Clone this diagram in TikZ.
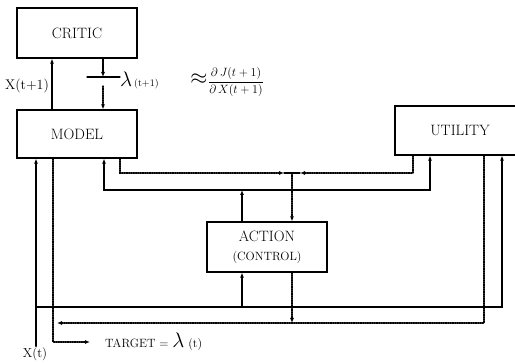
\RequirePackage{fix-cm}
\documentclass[tikz,border=0pt]{standalone}
\usepackage{amsmath}
\usetikzlibrary{arrows.meta}
\tikzset{
  block/.style={draw, line width=1.2pt, minimum width=120pt, minimum height=49pt, inner sep=0pt, align=center, font=\fontsize{15}{17}\selectfont},
  wire/.style={line width=1.3pt},
  sig/.style={densely dotted, line width=1.3pt},
  lbl/.style={inner sep=1pt, font=\fontsize{12}{14}\selectfont},
}
\begin{document}
\begin{tikzpicture}[x=1pt, y=-1pt, >={Latex[length=5pt,width=4pt]}, line cap=round]
\useasboundingbox (0,0) rectangle (515,363);
% boxes
\node[block, minimum height=50pt] (critic) at (77,33) {CRITIC};
\node[block, minimum height=48pt] (model) at (77,134) {MODEL};
\node[block, minimum width=130pt] (utility) at (460,130.5) {UTILITY};
\node[block, minimum height=50pt] (action) at (267,247) {ACTION\\[2pt]{\fontsize{12}{14}\selectfont(CONTROL)}};
% bus levels
\coordinate (busA) at (0,190);
\coordinate (busB) at (0,173);
\coordinate (busC) at (0,307);
\coordinate (busD) at (0,323);
% ports
\coordinate (m1) at ([xshift=-41pt]model.south);
\coordinate (m2) at ([xshift=-24pt]model.south);
\coordinate (m3) at ([xshift=27pt]model.south);
\coordinate (m4) at ([xshift=43pt]model.south);
\coordinate (m5) at ([xshift=-25pt]model.north);
\coordinate (m6) at ([xshift=26pt]model.north);
\coordinate (c1) at ([xshift=-25pt]critic.south);
\coordinate (c2) at ([xshift=26pt]critic.south);
\coordinate (u1) at ([xshift=-47pt]utility.south);
\coordinate (u2) at ([xshift=-30pt]utility.south);
\coordinate (u3) at ([xshift=24pt]utility.south);
\coordinate (u4) at ([xshift=42pt]utility.south);
\coordinate (a1) at ([xshift=-25pt]action.north);
\coordinate (a2) at ([xshift=25pt]action.north);
\coordinate (a3) at ([xshift=-25pt]action.south);
\coordinate (a4) at ([xshift=25pt]action.south);
\coordinate (lam) at (103,77);
\coordinate (jn) at (a2 |- busB);
% labels
\node[lbl, font=\fontsize{14}{16}\selectfont] (xnext) at (27,86) {X(t+1)};
\node[lbl, anchor=west] (lamnext) at (119,80) {{\fontsize{21}{23}\selectfont$\lambda$}\,{\fontsize{10}{12}\selectfont(t+1)}};
\node[lbl] (approx) at (199,79) {\fontsize{22}{24}\selectfont$\approx$};
\node[lbl] (grad) at (236,82) {$\dfrac{\partial\,J(t+1)}{\partial\,X(t+1)}$};
\node[lbl, font=\fontsize{13}{15}\selectfont] (xnow) at (35,354) {X(t)};
\node[lbl, anchor=west] (target) at (104,342) {TARGET = {\fontsize{21}{23}\selectfont$\lambda$} (t)};
% critic loop
\draw[wire,->] (m5) -- (c1);
\draw[wire,->] (c2) -- (lam);
\draw[wire] ([xshift=-16pt]lam) -- ([xshift=17pt]lam);
\draw[sig,->] ([yshift=-9pt]lam) -- (m6);
% action output to model and utility
\draw[wire,<->] (m3) -- (m3 |- busA) -- (u2 |- busA) -- (u2);
\draw[wire,->] (a1) -- (a1 |- busA);
% lambda from model and utility to action
\draw[sig,->] (m4) -- (m4 |- busB) -- ([xshift=-8pt]jn);
\draw[sig,->] (u1) -- (u1 |- busB) -- ([xshift=8pt]jn);
\draw[wire] ([xshift=-8pt]jn) -- ([xshift=8pt]jn);
\draw[sig,->] (jn) -- (a2);
% state X(t)
\draw[wire,->] (m1 |- xnow.north) -- (m1);
\draw[wire,->] (m1 |- busC) -- (u4 |- busC) -- (u4);
\draw[wire,->] (a3 |- busC) -- (a3);
% target lambda(t)
\draw[sig,->] (u3) -- (u3 |- busD) -- (m2 |- busD) [shorten >=4pt];
\draw[sig,->] (a4) -- (a4 |- busD);
\draw[sig,->] (m2) -- (m2 |- target) -- ([xshift=-14pt]target.west);
\end{tikzpicture}
\end{document}
